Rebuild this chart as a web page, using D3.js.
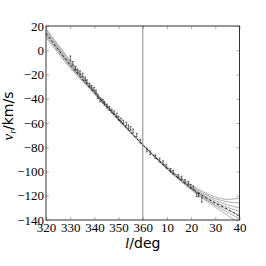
<!DOCTYPE html>
<html>
<head>
<meta charset="utf-8">
<script src="https://cdn.jsdelivr.net/npm/d3@7"></script>
<style>
  body { margin: 0; background: #fff; }
  .tick text { font-family: "Liberation Serif", serif; font-size: 13px; fill: #000; }
</style>
</head>
<body>
<svg id="chart" width="266" height="266"></svg>
<script>
// tick labels along l (320..400 shown wrapped at 360)
const xTicks = [320, 330, 340, 350, 360, 370, 380, 390, 400];
const xTickLabels = ["320", "330", "340", "350", "360", "10", "20", "30", "40"];
const yTicks = [20, 0, -20, -40, -60, -80, -100, -120, -140];

// model curves, sampled at these longitudes
const curveL = [320, 330, 340, 350, 360, 370, 380, 390, 395, 400];
const models = [
  [18, -8.5, -33, -56, -77.8, -96, -111, -121, -123, -122],
  [17, -9.5, -33.5, -56.3, -77.9, -96.5, -112, -122.5, -125, -126],
  [15.5, -10.5, -34, -56.6, -78, -97, -113, -124, -127.5, -130],
  [14.5, -11.5, -34.5, -57, -78, -97, -113.5, -125.5, -129.5, -133],
  [13, -12.5, -35, -57.3, -78, -97.5, -114, -127, -131.5, -136],
  [12, -13.5, -35.5, -57.6, -78.1, -97.5, -114.5, -128, -133.5, -139],
  [10.5, -14.5, -36, -58, -78.2, -98, -115, -129.5, -136, -143]
];
const bestFit = [14, -12, -35, -57, -78, -97.3, -113.5, -126, -131, -137];

// observed points
const obsL = [330.1, 331.1, 332.2, 333.1, 334.1, 335.2, 336.2, 336.9, 338, 338.9, 339.9, 340.7,
  341.4, 342.4, 343.5, 344.2, 345.2, 346.2, 347.2, 348.2, 349.3, 350, 351, 352, 353.2, 354.1,
  355, 356, 357.5, 359, 361.7, 363.1, 365.2, 367, 368.4, 369.7, 371.5, 372.6, 374.7, 376.1,
  377.5, 378.9, 379.8, 380.9, 382.3, 383.1, 384.4];
const obsV = [-6.7, -10.8, -14.9, -17.1, -18.5, -20.4, -23.5, -25.9, -28.7, -30.6, -32.2, -34.4,
  -38.3, -41, -41.9, -43.8, -46, -47.9, -50.1, -51.5, -53.4, -56.1, -57.5, -59.2, -60.8, -63,
  -64.5, -66.5, -70, -75, -82.3, -84.5, -87.8, -90.5, -92.7, -95.5, -99, -100.7, -104, -105.4,
  -108.1, -109.5, -112.2, -113.6, -119.1, -119.4, -123.3];
const obsErr = [2, 1.5, 1.5, 1.5, 1.5, 1.5, 1.5, 1.5, 1.5, 1.5, 1.5, 1.5, 1.5, 1.5, 1.5, 1.5,
  1.5, 1.5, 1.5, 1.5, 1.5, 1.5, 1.5, 1.5, 1.5, 1.5, 1.5, 1.5, 1.5, 1.5, 1.5, 1.5, 1.5, 1.5, 1.5,
  1.5, 1.5, 1.5, 1.5, 1.5, 1.5, 1.5, 1.5, 1.5, 1.5, 1.5, 2];

const margin = { top: 26, right: 26.5, bottom: 46, left: 46 };
const width = 266 - margin.left - margin.right;
const height = 266 - margin.top - margin.bottom;

const svg = d3.select("#chart");
const g = svg.append("g").attr("transform", `translate(${margin.left},${margin.top})`);

const x = d3.scaleLinear().domain([320, 400]).range([0, width]);
const y = d3.scaleLinear().domain([-140, 20]).range([height, 0]);

g.append("clipPath").attr("id", "clip")
  .append("rect").attr("width", width).attr("height", height);

const plot = g.append("g").attr("clip-path", "url(#clip)");

// l = 360 marker
plot.append("line")
  .attr("x1", x(360)).attr("x2", x(360))
  .attr("y1", 0).attr("y2", height)
  .attr("stroke", "#9a9a9a").attr("stroke-width", 1.2);

const line = d3.line()
  .x((d, i) => x(curveL[i]))
  .y(d => y(d))
  .curve(d3.curveMonotoneX);

plot.selectAll("path.model")
  .data(models)
  .join("path")
  .attr("class", "model")
  .attr("d", line)
  .attr("fill", "none")
  .attr("stroke", "#999")
  .attr("stroke-width", 0.8);

plot.append("path")
  .attr("d", line(bestFit))
  .attr("fill", "none")
  .attr("stroke", "#111")
  .attr("stroke-width", 0.9)
  .attr("stroke-dasharray", "2.5,2");

// error bars
const pts = plot.selectAll("g.pt")
  .data(obsL.map((l, i) => ({ l: l, v: obsV[i], e: obsErr[i] })))
  .join("g")
  .attr("class", "pt")
  .attr("stroke", "#333")
  .attr("stroke-width", 0.7);

pts.append("line")
  .attr("x1", d => x(d.l)).attr("x2", d => x(d.l))
  .attr("y1", d => y(d.v + d.e)).attr("y2", d => y(d.v - d.e));
pts.append("line")
  .attr("x1", d => x(d.l) - 1).attr("x2", d => x(d.l) + 1)
  .attr("y1", d => y(d.v + d.e)).attr("y2", d => y(d.v + d.e));
pts.append("line")
  .attr("x1", d => x(d.l) - 1).attr("x2", d => x(d.l) + 1)
  .attr("y1", d => y(d.v - d.e)).attr("y2", d => y(d.v - d.e));

// axes with inward ticks on all sides
const fmt = v => (v < 0 ? "\u2212" + Math.abs(v) : String(v));
const labelFor = v => xTickLabels[xTicks.indexOf(v)];

g.append("g")
  .attr("transform", `translate(0,${height})`)
  .call(d3.axisBottom(x).tickValues(xTicks).tickFormat(labelFor).tickSizeInner(-3).tickSizeOuter(0).tickPadding(3));
g.append("g")
  .call(d3.axisTop(x).tickValues(xTicks).tickFormat("").tickSizeInner(-3).tickSizeOuter(0));
g.append("g")
  .call(d3.axisLeft(y).tickValues(yTicks).tickFormat(fmt).tickSizeInner(-3).tickSizeOuter(0).tickPadding(2));
g.append("g")
  .attr("transform", `translate(${width},0)`)
  .call(d3.axisRight(y).tickValues(yTicks).tickFormat("").tickSizeInner(-3).tickSizeOuter(0));

g.selectAll(".domain").remove();
g.selectAll(".tick line").attr("stroke", "#888").attr("stroke-width", 0.7);
g.selectAll(".tick text").attr("fill", "#000");

g.append("rect")
  .attr("width", width).attr("height", height)
  .attr("fill", "none").attr("stroke", "#333").attr("stroke-width", 1);

// axis labels
const xl = svg.append("text")
  .attr("x", margin.left + width / 2)
  .attr("y", 248)
  .attr("text-anchor", "middle")
  .style("font-family", "'DejaVu Sans', sans-serif")
  .style("font-size", "14px");
xl.append("tspan").text("l").style("font-family", "'Liberation Serif', serif").style("font-style", "italic").style("font-size", "15px");
xl.append("tspan").text("/deg");

const yl = svg.append("text")
  .attr("transform", "translate(13,116) rotate(-90)")
  .attr("text-anchor", "middle")
  .style("font-family", "'DejaVu Sans', sans-serif")
  .style("font-size", "14px");
yl.append("tspan").text("v").style("font-family", "'Liberation Serif', serif").style("font-style", "italic").style("font-size", "15px");
yl.append("tspan").text("r").attr("dy", 3).style("font-family", "'Liberation Serif', serif").style("font-style", "italic").style("font-size", "10px");
yl.append("tspan").text("/km/s").attr("dy", -3);
</script>
</body>
</html>
